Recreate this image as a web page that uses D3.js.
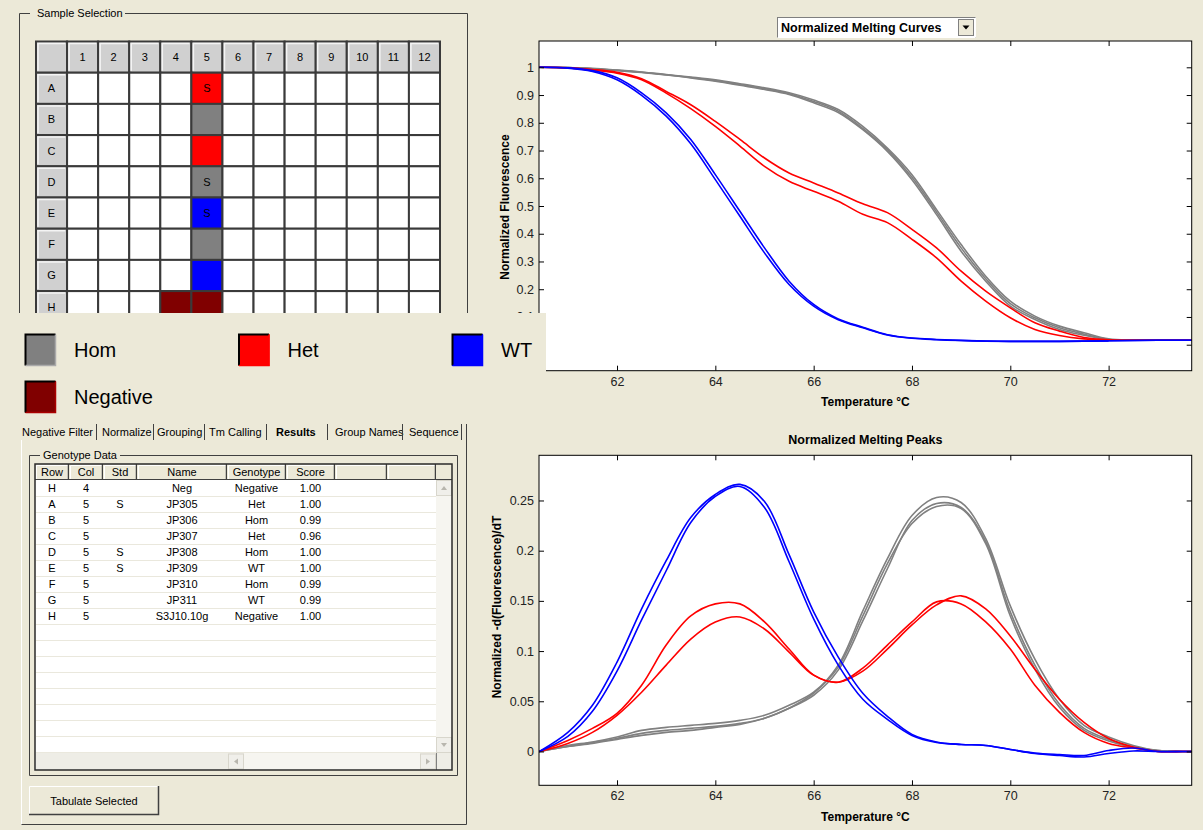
<!DOCTYPE html>
<html>
<head>
<meta charset="utf-8">
<script src="https://cdn.jsdelivr.net/npm/d3@7"></script>
<style>
  body { margin: 0; background: #ECE9D8; }
  svg { display: block; font-family: "Liberation Sans", Arial, sans-serif; }
</style>
</head>
<body>
<svg id="viz" width="1203" height="830"></svg>
<script>
// ---------------- data ----------------
const plateCols = [1, 2, 3, 4, 5, 6, 7, 8, 9, 10, 11, 12];
const plateRows = ["A", "B", "C", "D", "E", "F", "G", "H"];

const genotypes = ["Hom", "Het", "WT", "Negative"];
const genoColors = ["#808080", "#FF0000", "#0000FF", "#800000"];

const tableHeaders = ["Row", "Col", "Std", "Name", "Genotype", "Score", "", ""];
const resRow   = ["H", "A", "B", "C", "D", "E", "F", "G", "H"];
const resCol   = [4, 5, 5, 5, 5, 5, 5, 5, 5];
const resStd   = ["", "S", "", "", "S", "S", "", "", ""];
const resName  = ["Neg", "JP305", "JP306", "JP307", "JP308", "JP309", "JP310", "JP311", "S3J10.10g"];
const resGeno  = ["Negative", "Het", "Hom", "Het", "Hom", "WT", "Hom", "WT", "Negative"];
const resScore = ["1.00", "1.00", "0.99", "0.96", "1.00", "1.00", "0.99", "0.99", "1.00"];

const tabs = ["Negative Filter", "Normalize", "Grouping", "Tm Calling", "Results", "Group Names", "Sequence"];

const temps = [60.42, 61, 61.5, 62, 62.5, 63, 63.5, 64, 64.5, 65, 65.5, 66, 66.5, 67, 67.5,
               68, 68.5, 69, 69.5, 70, 70.5, 71, 71.5, 72, 72.5, 73, 73.5, 73.69];
const tempTicks = [62, 64, 66, 68, 70, 72];
const meltTicks = [0, 0.1, 0.2, 0.3, 0.4, 0.5, 0.6, 0.7, 0.8, 0.9, 1];
const peakTicks = [0, 0.05, 0.1, 0.15, 0.2, 0.25];

// normalized melting curves
const meltA = [1.000, 0.998, 0.992, 0.982, 0.959, 0.913, 0.865, 0.805, 0.740, 0.673, 0.619, 0.583, 0.547, 0.508, 0.476, 0.416, 0.349, 0.265, 0.193, 0.133, 0.079, 0.049, 0.026, 0.018, 0.016, 0.016, 0.016, 0.016];
const meltC = [1.000, 0.998, 0.990, 0.979, 0.955, 0.907, 0.851, 0.787, 0.716, 0.643, 0.589, 0.553, 0.517, 0.470, 0.440, 0.380, 0.313, 0.229, 0.157, 0.097, 0.055, 0.033, 0.021, 0.017, 0.016, 0.016, 0.016, 0.016];
const meltB = [1.000, 0.999, 0.996, 0.990, 0.983, 0.974, 0.965, 0.955, 0.941, 0.926, 0.908, 0.882, 0.848, 0.787, 0.709, 0.613, 0.487, 0.361, 0.247, 0.157, 0.103, 0.067, 0.043, 0.021, 0.017, 0.016, 0.016, 0.016];
const meltD = [1.000, 0.999, 0.995, 0.989, 0.981, 0.972, 0.962, 0.950, 0.935, 0.920, 0.902, 0.872, 0.837, 0.775, 0.697, 0.595, 0.469, 0.337, 0.229, 0.139, 0.091, 0.055, 0.034, 0.018, 0.016, 0.016, 0.016, 0.016];
const meltF = [1.000, 0.999, 0.995, 0.989, 0.982, 0.973, 0.963, 0.952, 0.938, 0.923, 0.905, 0.877, 0.842, 0.780, 0.703, 0.604, 0.478, 0.349, 0.238, 0.148, 0.097, 0.061, 0.038, 0.019, 0.016, 0.016, 0.016, 0.016];
const meltE = [1.000, 0.998, 0.988, 0.962, 0.908, 0.836, 0.740, 0.613, 0.481, 0.349, 0.229, 0.145, 0.093, 0.063, 0.036, 0.024, 0.019, 0.0155, 0.013, 0.012, 0.012, 0.012, 0.013, 0.014, 0.015, 0.016, 0.016, 0.016];
const meltG = [1.000, 0.997, 0.985, 0.955, 0.899, 0.824, 0.724, 0.595, 0.463, 0.331, 0.217, 0.139, 0.090, 0.061, 0.035, 0.023, 0.018, 0.015, 0.013, 0.012, 0.012, 0.012, 0.013, 0.014, 0.015, 0.016, 0.016, 0.016];

// normalized melting peaks  -dF/dT
const peakA = [0.000, 0.011, 0.023, 0.038, 0.066, 0.106, 0.135, 0.147, 0.147, 0.129, 0.102, 0.076, 0.069, 0.083, 0.106, 0.129, 0.149, 0.147, 0.129, 0.102, 0.066, 0.039, 0.019, 0.008, 0.0035, 0.000, 0.000, 0.000];
const peakC = [0.000, 0.008, 0.019, 0.036, 0.059, 0.086, 0.112, 0.129, 0.134, 0.122, 0.099, 0.076, 0.069, 0.080, 0.102, 0.126, 0.146, 0.155, 0.142, 0.115, 0.082, 0.052, 0.029, 0.013, 0.0045, 0.000, 0.000, 0.000];
const peakB = [0.000, 0.006, 0.0095, 0.0145, 0.021, 0.024, 0.026, 0.028, 0.031, 0.036, 0.046, 0.059, 0.086, 0.140, 0.192, 0.235, 0.253, 0.248, 0.212, 0.145, 0.092, 0.052, 0.026, 0.0145, 0.006, 0.001, 0.000, 0.000];
const peakD = [0.000, 0.005, 0.009, 0.013, 0.018, 0.021, 0.023, 0.025, 0.028, 0.033, 0.043, 0.056, 0.081, 0.130, 0.182, 0.230, 0.247, 0.243, 0.209, 0.139, 0.086, 0.047, 0.023, 0.012, 0.0045, 0.001, 0.000, 0.000];
const peakF = [0.000, 0.005, 0.008, 0.012, 0.016, 0.019, 0.021, 0.024, 0.027, 0.033, 0.043, 0.058, 0.084, 0.135, 0.187, 0.227, 0.244, 0.242, 0.207, 0.135, 0.082, 0.044, 0.021, 0.0105, 0.004, 0.001, 0.000, 0.000];
const peakE = [0.000, 0.019, 0.046, 0.089, 0.142, 0.190, 0.233, 0.256, 0.266, 0.249, 0.196, 0.139, 0.094, 0.058, 0.035, 0.017, 0.0095, 0.007, 0.006, 0.002, -0.0015, -0.003, -0.004, 0.001, 0.0035, 0.000, 0.000, 0.000];
const peakG = [0.000, 0.015, 0.040, 0.080, 0.131, 0.180, 0.228, 0.254, 0.264, 0.243, 0.189, 0.132, 0.086, 0.052, 0.032, 0.016, 0.009, 0.007, 0.006, 0.002, -0.002, -0.004, -0.0055, -0.002, 0.0005, 0.000, 0.000, 0.000];

const samples = [
  { geno: "Hom", melt: meltB, peak: peakB },
  { geno: "Hom", melt: meltD, peak: peakD },
  { geno: "Hom", melt: meltF, peak: peakF },
  { geno: "Het", melt: meltA, peak: peakA },
  { geno: "Het", melt: meltC, peak: peakC },
  { geno: "WT",  melt: meltE, peak: peakE },
  { geno: "WT",  melt: meltG, peak: peakG }
];

// ---------------- setup ----------------
const svg = d3.select("#viz");
const bg = "#ECE9D8";
const genoColor = d3.scaleOrdinal().domain(genotypes).range(genoColors);

// ---------------- charts ----------------
const x = d3.scaleLinear().domain([60.413, 73.69]).range([539, 1191.7]);
const yMelt = d3.scaleLinear().domain([-0.0937, 1.0948]).range([370.7, 41]);
const yPeak = d3.scaleLinear().domain([-0.0337, 0.295]).range([785.3, 455.3]);

function styleAxis(a) {
  a.select(".domain").remove();
  a.selectAll("line").attr("stroke", "#000");
  a.selectAll("text").attr("font-size", 12.5).attr("fill", "#222")
    .attr("font-family", '"Liberation Sans", Arial, sans-serif');
}

function drawChart(y, yTicks, key, clipId) {
  const [x0, x1] = x.range();
  const [yb, yt] = y.range();
  const g = svg.append("g");
  g.append("rect").attr("x", x0).attr("y", yt).attr("width", x1 - x0).attr("height", yb - yt).attr("fill", "#fff");
  g.append("clipPath").attr("id", clipId).append("rect")
    .attr("x", x0).attr("y", yt).attr("width", x1 - x0).attr("height", yb - yt);

  const line = d3.line()
    .x((d, i) => x(temps[i]))
    .y(d => y(d))
    .curve(d3.curveCatmullRom.alpha(0.5));

  g.append("g").attr("clip-path", `url(#${clipId})`)
    .selectAll("path").data(samples).join("path")
    .attr("d", d => line(d[key]))
    .attr("fill", "none")
    .attr("stroke", d => genoColor(d.geno))
    .attr("stroke-width", 1.6);

  g.append("g").attr("transform", `translate(0,${yb})`)
    .call(d3.axisBottom(x).tickValues(tempTicks).tickSize(-5).tickPadding(6).tickFormat(d3.format("d")))
    .call(styleAxis);
  g.append("g").attr("transform", `translate(0,${yt})`)
    .call(d3.axisTop(x).tickValues(tempTicks).tickSize(-5).tickFormat(""))
    .call(styleAxis);
  g.append("g").attr("class", "yleft").attr("transform", `translate(${x0},0)`)
    .call(d3.axisLeft(y).tickValues(yTicks).tickSize(-5).tickPadding(5).tickFormat(d3.format("~g")))
    .call(styleAxis);
  g.append("g").attr("transform", `translate(${x1},0)`)
    .call(d3.axisRight(y).tickValues(yTicks).tickSize(-5).tickFormat(""))
    .call(styleAxis);

  g.append("rect").attr("x", x0).attr("y", yt).attr("width", x1 - x0).attr("height", yb - yt)
    .attr("fill", "none").attr("stroke", "#000").attr("stroke-width", 1);
  return g;
}

const cx = (x.range()[0] + x.range()[1]) / 2;

const gMelt = drawChart(yMelt, meltTicks, "melt", "clipMelt");
// the "0" label sits fully under the legend panel in the reference
gMelt.select(".yleft").selectAll(".tick").filter(d => d === 0).select("text").remove();
gMelt.append("text").attr("x", cx).attr("y", 406).attr("text-anchor", "middle")
  .attr("font-size", 12).attr("font-weight", "bold").text("Temperature \u00B0C");
gMelt.append("text").attr("transform", "translate(509,207) rotate(-90)").attr("text-anchor", "middle")
  .attr("font-size", 12).attr("font-weight", "bold").text("Normalized Fluorescence");

// dropdown title
const dd = svg.append("g");
dd.append("rect").attr("x", 777.5).attr("y", 17.5).attr("width", 198).attr("height", 20)
  .attr("fill", "#fff").attr("stroke", "#7F7F7F");
dd.append("path").attr("d", "M777.5,37.5 L975.5,37.5 L975.5,17.5").attr("stroke", "#fff").attr("fill", "none");
dd.append("text").attr("x", 781).attr("y", 32).attr("font-size", 12.5).attr("font-weight", "bold").text("Normalized Melting Curves");
dd.append("rect").attr("x", 958.5).attr("y", 19.5).attr("width", 15).attr("height", 16)
  .attr("fill", bg).attr("stroke", "#808080");
dd.append("path").attr("d", "M962.5,25.5 L969.5,25.5 L966,29.5 Z").attr("fill", "#000");

const gPeak = drawChart(yPeak, peakTicks, "peak", "clipPeak");
gPeak.append("text").attr("x", cx).attr("y", 444).attr("text-anchor", "middle")
  .attr("font-size", 12.5).attr("font-weight", "bold").text("Normalized Melting Peaks");
gPeak.append("text").attr("x", cx).attr("y", 821).attr("text-anchor", "middle")
  .attr("font-size", 12).attr("font-weight", "bold").text("Temperature \u00B0C");
gPeak.append("text").attr("transform", "translate(501,607) rotate(-90)").attr("text-anchor", "middle")
  .attr("font-size", 12).attr("font-weight", "bold").text("Normalized -d(Fluorescence)/dT");

// ---------------- sample plate ----------------
const plate = svg.append("g");
plate.append("path")
  .attr("d", "M30,13.5 L19.5,13.5 L19.5,330 M125,13.5 L467.5,13.5 L467.5,330")
  .attr("fill", "none").attr("stroke", "#404040");
plate.append("text").attr("x", 37).attr("y", 17).attr("font-size", 11).text("Sample Selection");

const colX = d3.scaleBand().domain(["hdr", ...plateCols]).range([36, 440]);
const rowY = d3.scaleBand().domain(["hdr", ...plateRows]).range([41.5, 41.5 + 9 * 31.2]);

function wellIndex(r, c) {
  return resRow.findIndex((rr, i) => rr === r && resCol[i] === c);
}

const cells = [];
["hdr", ...plateRows].forEach(r => ["hdr", ...plateCols].forEach(c => cells.push({ r, c })));

const cg = plate.selectAll("g.cell").data(cells).join("g").attr("class", "cell")
  .attr("transform", d => `translate(${colX(d.c)},${rowY(d.r)})`);
cg.append("rect")
  .attr("width", colX.bandwidth()).attr("height", rowY.bandwidth())
  .attr("fill", d => {
    if (d.r === "hdr" || d.c === "hdr") return "#D0D0D0";
    const k = wellIndex(d.r, d.c);
    return k >= 0 ? genoColor(resGeno[k]) : "#fff";
  })
  .attr("stroke", "#3A3A3A").attr("stroke-width", 2);
cg.filter(d => d.r === "hdr" || d.c === "hdr").append("path")
  .attr("d", `M2,${rowY.bandwidth() - 2} L2,2 L${colX.bandwidth() - 2},2`)
  .attr("fill", "none").attr("stroke", "#F4F4F4").attr("stroke-width", 1.5);
cg.append("text")
  .attr("x", colX.bandwidth() / 2).attr("y", rowY.bandwidth() / 2 + 4)
  .attr("text-anchor", "middle").attr("font-size", 11)
  .text(d => {
    if (d.r === "hdr" && d.c === "hdr") return "";
    if (d.r === "hdr") return d.c;
    if (d.c === "hdr") return d.r;
    const k = wellIndex(d.r, d.c);
    return k >= 0 ? resStd[k] : "";
  });

// ---------------- legend panel (overlaps plate and chart) ----------------
const lg = svg.append("g");
lg.append("rect").attr("x", 0).attr("y", 313).attr("width", 546).attr("height", 108).attr("fill", bg);
const li = lg.selectAll("g").data(genotypes).join("g")
  .attr("transform", (d, i) => i < 3 ? `translate(${25 + i * 213.5},334)` : "translate(25,381)");
li.append("rect").attr("width", 31).attr("height", 32).attr("fill", d => genoColor(d));
li.append("path").attr("d", "M0.5,31.5 L0.5,0.5 L30.5,0.5").attr("fill", "none").attr("stroke", "#000").attr("stroke-width", 2);
li.append("path").attr("d", "M0.5,31.5 L30.5,31.5 L30.5,0.5").attr("fill", "none")
  .attr("stroke", d => d3.color(genoColor(d)).brighter(0.8)).attr("stroke-width", 1.5);
li.append("text").attr("x", 49).attr("y", 23).attr("font-size", 20).text(d => d);

// ---------------- tabs ----------------
const tabX = [22, 102, 157, 209, 276, 335, 409];
const sepX = [96, 153, 204, 266, 327, 402, 461];
const tg = svg.append("g");
tg.selectAll("text").data(tabs).join("text")
  .attr("x", (d, i) => tabX[i]).attr("y", 436).attr("font-size", 11)
  .attr("font-weight", d => d === "Results" ? "bold" : "normal")
  .text(d => d);
tg.selectAll("line").data(sepX).join("line")
  .attr("x1", d => d + 0.5).attr("x2", d => d + 0.5).attr("y1", 424).attr("y2", 440)
  .attr("stroke", "#404040");
// tab page border
tg.append("path").attr("d", "M21.5,440 L21.5,824.5").attr("stroke", "#fff").attr("fill", "none");
tg.append("path").attr("d", "M466.5,424 L466.5,824.5 L21.5,824.5").attr("stroke", "#404040").attr("fill", "none");

// ---------------- genotype table ----------------
const tb = svg.append("g");
tb.append("path").attr("d", "M40,455.5 L29.5,455.5 L29.5,775.5 L457.5,775.5 L457.5,455.5 L120,455.5")
  .attr("fill", "none").attr("stroke", "#404040");
tb.append("text").attr("x", 43).attr("y", 458.5).attr("font-size", 11).text("Genotype Data");

const colEdges = [35, 69, 103, 137, 227, 286, 335, 387, 436];
const headTop = 464, headBot = 480, rowH = 16, bodyBot = 753;

tb.append("rect").attr("x", 35).attr("y", headTop).attr("width", 417).attr("height", 306).attr("fill", "#fff");
// header cells
tb.selectAll("g.hd").data(tableHeaders).join("g").attr("class", "hd")
  .each(function (d, i) {
    const g = d3.select(this);
    const xa = colEdges[i], xb = colEdges[i + 1];
    g.append("rect").attr("x", xa).attr("y", headTop).attr("width", xb - xa).attr("height", headBot - headTop).attr("fill", bg);
    g.append("path").attr("d", `M${xa + 1.5},${headBot} L${xa + 1.5},${headTop + 1.5} L${xb},${headTop + 1.5}`)
      .attr("fill", "none").attr("stroke", "#fff");
    g.append("line").attr("x1", xb - 0.5).attr("x2", xb - 0.5).attr("y1", headTop).attr("y2", headBot).attr("stroke", "#404040").attr("stroke-width", 1.5);
    g.append("text").attr("x", (xa + xb) / 2).attr("y", headBot - 4).attr("text-anchor", "middle").attr("font-size", 11).text(d);
  });
tb.append("rect").attr("x", 436).attr("y", headTop).attr("width", 16).attr("height", headBot - headTop).attr("fill", bg);
tb.append("line").attr("x1", 35).attr("x2", 452).attr("y1", headBot - 0.5).attr("y2", headBot - 0.5).attr("stroke", "#404040");

// row separators
const nLines = Math.floor((bodyBot - headBot) / rowH);
tb.selectAll("line.rs").data(d3.range(1, nLines + 1)).join("line").attr("class", "rs")
  .attr("x1", 36).attr("x2", 436).attr("y1", k => headBot + k * rowH + 0.5).attr("y2", k => headBot + k * rowH + 0.5)
  .attr("stroke", "#EAE8DD");

// body text
const tableCols = [resRow, resCol, resStd, resName, resGeno, resScore];
tableCols.forEach((col, ci) => {
  tb.selectAll(null).data(col).join("text")
    .attr("x", (colEdges[ci] + colEdges[ci + 1]) / 2)
    .attr("y", (d, ri) => headBot + ri * rowH + 12)
    .attr("text-anchor", "middle").attr("font-size", 11)
    .text(d => d);
});

// scrollbars
function arrowBtn(g, bx, by, dir) {
  g.append("rect").attr("x", bx + 0.5).attr("y", by + 0.5).attr("width", 15).attr("height", 15)
    .attr("fill", "#F0EFEA").attr("stroke", "#D8D6CC");
  const m = bx + 8, n = by + 8;
  const pts = {
    up: `M${m - 3},${n + 2} L${m + 3},${n + 2} L${m},${n - 2} Z`,
    down: `M${m - 3},${n - 2} L${m + 3},${n - 2} L${m},${n + 2} Z`,
    left: `M${m + 2},${n - 3} L${m + 2},${n + 3} L${m - 2},${n} Z`,
    right: `M${m - 2},${n - 3} L${m - 2},${n + 3} L${m + 2},${n} Z`
  };
  g.append("path").attr("d", pts[dir]).attr("fill", "#B8B6AE");
}
tb.append("rect").attr("x", 436).attr("y", headBot).attr("width", 16).attr("height", bodyBot - headBot).attr("fill", "#F6F5F0");
arrowBtn(tb, 436, headBot, "up");
arrowBtn(tb, 436, bodyBot - 16, "down");
tb.append("rect").attr("x", 36).attr("y", bodyBot).attr("width", 416).attr("height", 17).attr("fill", "#EEEDE6");
tb.append("rect").attr("x", 244).attr("y", bodyBot).attr("width", 176).attr("height", 17).attr("fill", "#F6F5F0");
arrowBtn(tb, 228, bodyBot + 0.5, "left");
arrowBtn(tb, 420, bodyBot + 0.5, "right");
tb.append("line").attr("x1", 436.5).attr("x2", 436.5).attr("y1", bodyBot).attr("y2", 770).attr("stroke", "#808080");

// table outer frame
tb.append("rect").attr("x", 35).attr("y", headTop).attr("width", 417).attr("height", 306)
  .attr("fill", "none").attr("stroke", "#2A2A2A").attr("stroke-width", 1.5);

// button
const bt = svg.append("g");
bt.append("rect").attr("x", 29).attr("y", 786).attr("width", 130).attr("height", 29).attr("fill", bg);
bt.append("path").attr("d", "M29.5,815 L29.5,786.5 L159,786.5").attr("fill", "none").attr("stroke", "#fff");
bt.append("path").attr("d", "M29,814.5 L158.5,814.5 L158.5,786").attr("fill", "none").attr("stroke", "#404040").attr("stroke-width", 1.5);
bt.append("text").attr("x", 94).attr("y", 805).attr("text-anchor", "middle").attr("font-size", 11).text("Tabulate Selected");
</script>
</body>
</html>
